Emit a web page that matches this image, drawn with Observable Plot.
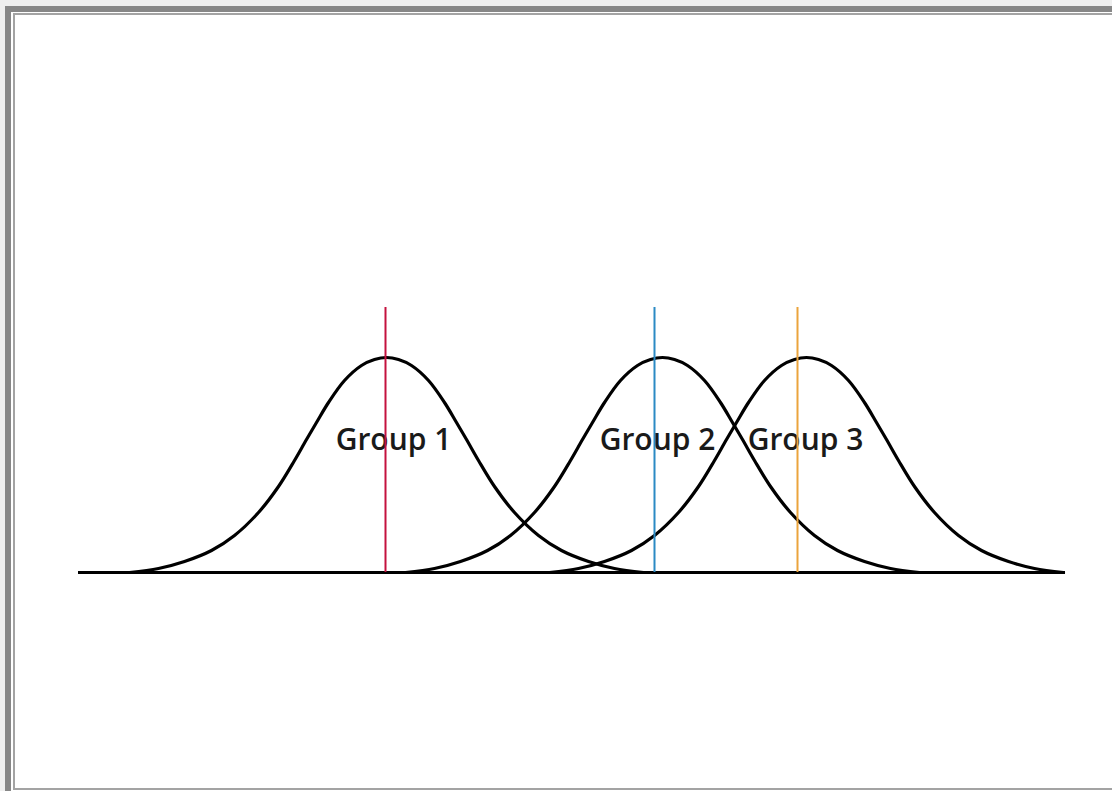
<!DOCTYPE html>
<html>
<head>
<meta charset="utf-8">
<script src="https://cdn.jsdelivr.net/npm/d3@7"></script>
<script src="https://cdn.jsdelivr.net/npm/@observablehq/plot@0.6"></script>
<style>
  html, body { margin: 0; padding: 0; background: #efefef; }
  #wrap { position: relative; width: 1112px; height: 791px; overflow: hidden; background: #efefef; }
  #band { position: absolute; left: 5px; top: 6px; right: 0; bottom: 0; background: #878787; }
  #gap { position: absolute; left: 11px; top: 12px; right: 0; bottom: 0; background: #ffffff; }
  #inner { position: absolute; left: 13px; top: 13px; width: 1110px; height: 773px; border: 2px solid #a3a3a3; background: #ffffff; }
  #chart { position: absolute; left: 0; top: 0; }
</style>
</head>
<body>
<div id="wrap">
  <div id="band"></div>
  <div id="gap"></div>
  <div id="inner"></div>
  <div id="chart"></div>
</div>
<script>
// Groups: label, curve centre, mean-line position, line colour (x in chart units)
const groups = ["Group 1", "Group 2", "Group 3"];
const centers = [308, 584, 728];
const means = [307, 576, 719];
const labelX = [315, 579, 727];
const lineColors = ["#c4123f", "#2b8ac4", "#eba43c"];

// Bell-curve profile: offset from centre and height
const profileDx = [-257, -228, -202, -175, -152, -128, -108, -92, -80, -70, -58, -42, -25, -12, 0, 12, 25, 42, 58, 70, 80, 92, 108, 128, 152, 175, 202, 228, 257];
const profileH  = [0, 4, 11, 22, 37, 60, 86, 112, 133, 150, 170, 192, 207, 213, 215, 213, 207, 192, 170, 150, 133, 112, 86, 60, 37, 22, 11, 4, 0];

const labelHeight = 132;
const lineTop = 265;

const curves = groups.flatMap((g, i) =>
  profileDx.map((dx, j) => ({group: g, x: centers[i] + dx, y: profileH[j]}))
);
const meanLines = groups.map((g, i) => ({group: g, x: means[i], color: lineColors[i]}));
const labels = groups.map((g, i) => ({group: g, x: labelX[i], y: labelHeight}));

const chart = Plot.plot({
  width: 1112,
  height: 791,
  marginLeft: 78,
  marginRight: 47,
  marginTop: 307,
  marginBottom: 219,
  x: {domain: [0, 987], axis: null},
  y: {domain: [0, lineTop], axis: null},
  style: {background: "transparent", overflow: "visible"},
  marks: [
    Plot.ruleY([0], {stroke: "#000", strokeWidth: 3}),
    Plot.line(curves, {x: "x", y: "y", z: "group", stroke: "#000", strokeWidth: 3.2, curve: "catmull-rom"}),
    Plot.text(labels, {x: "x", y: "y", text: "group", fontSize: 30, fontWeight: 600, fill: "#1a1a1a", fontFamily: "'Open Sans', sans-serif"}),
    Plot.ruleX(meanLines, {x: "x", y1: 0, y2: lineTop, stroke: "color", strokeWidth: 2})
  ]
});
document.getElementById("chart").appendChild(chart);
</script>
</body>
</html>
